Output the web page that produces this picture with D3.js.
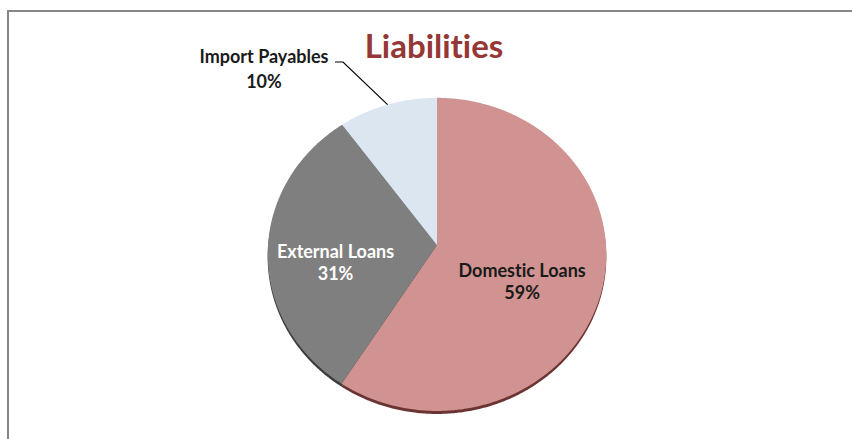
<!DOCTYPE html>
<html>
<head>
<meta charset="utf-8">
<script src="https://cdn.jsdelivr.net/npm/d3@7"></script>
<style>
  body { margin: 0; background: #fff; }
  text { font-family: Lato, "Open Sans", sans-serif; font-weight: bold; font-variant-ligatures: none; }
</style>
</head>
<body>
<div id="chart"></div>
<script>
// data
var categories = ["Domestic Loans", "External Loans", "Import Payables"];
var values = [59, 31, 10];
var pctLabels = ["59%", "31%", "10%"];
var colors = ["#d09391", "#7f7f7f", "#dce6f1"];
var rimColors = ["#6b3432", "#3c3c3c", "#9ba7b4"];

var width = 852, height = 439;

var svg = d3.select("#chart")
    .append("svg")
    .attr("width", width)
    .attr("height", height);

// frame (right and bottom edges run off the picture)
svg.append("rect")
    .attr("x", 8).attr("y", 11)
    .attr("width", 1000).attr("height", 1000)
    .attr("fill", "none")
    .attr("stroke", "#868686")
    .attr("stroke-width", 2);

// title
svg.append("text")
    .attr("x", 434).attr("y", 58)
    .attr("text-anchor", "middle")
    .attr("fill", "#953735")
    .style("font-size", "33px")
    .text("Liabilities");

// tilted pie: simple perspective projection of a flat disc
var cx = 437, cy = 245, a = 169, b = 156, k = 0.06;

function proj(angle, r) {
    var u = r * Math.sin(angle), v = -r * Math.cos(angle);
    var w = 1 - k * v;
    return [cx + a * u / w, cy + b * v / w];
}

var pie = d3.pie().sort(null).value(function (d) { return d; });
var arcs = pie(values);

var line = d3.line();

function slicePath(d) {
    var pts = [proj(0, 0)];
    var n = Math.max(4, Math.ceil((d.endAngle - d.startAngle) / 0.01));
    for (var i = 0; i <= n; i++) {
        var t = d.startAngle + (d.endAngle - d.startAngle) * i / n;
        pts.push(proj(t, 1));
    }
    return line(pts) + "Z";
}

// thin side edge
svg.append("g")
    .attr("transform", "translate(0,3)")
    .selectAll("path")
    .data(arcs)
    .enter()
    .append("path")
    .attr("d", slicePath)
    .attr("fill", function (d, i) { return rimColors[i]; });

// top face
svg.append("g")
    .selectAll("path")
    .data(arcs)
    .enter()
    .append("path")
    .attr("d", slicePath)
    .attr("fill", function (d, i) { return colors[i]; });

// inside labels
var inside = [
    { i: 0, r: 0.52, dy: 14, color: "#1a1a1a" },
    { i: 1, r: 0.6, dy: 15, color: "#ffffff" }
];
inside.forEach(function (o) {
    var d = arcs[o.i];
    var p = proj((d.startAngle + d.endAngle) / 2, o.r);
    var t = svg.append("text")
        .attr("text-anchor", "middle")
        .attr("fill", o.color)
        .style("font-size", "18px");
    t.append("tspan").attr("x", p[0]).attr("y", p[1] + o.dy - 5).text(categories[o.i]);
    t.append("tspan").attr("x", p[0]).attr("y", p[1] + o.dy + 17).text(pctLabels[o.i]);
});

// outside label with leader line
var imp = arcs[2];
var edge = proj((imp.startAngle + imp.endAngle) / 2, 1);
svg.append("path")
    .attr("d", line([[335, 62], [343, 62], edge]))
    .attr("fill", "none")
    .attr("stroke", "#000")
    .attr("stroke-width", 1.2);

var lt = svg.append("text")
    .attr("text-anchor", "middle")
    .attr("fill", "#1a1a1a")
    .style("font-size", "18px");
lt.append("tspan").attr("x", 264).attr("y", 63).text(categories[2]);
lt.append("tspan").attr("x", 264).attr("y", 88).text(pctLabels[2]);
</script>
</body>
</html>
